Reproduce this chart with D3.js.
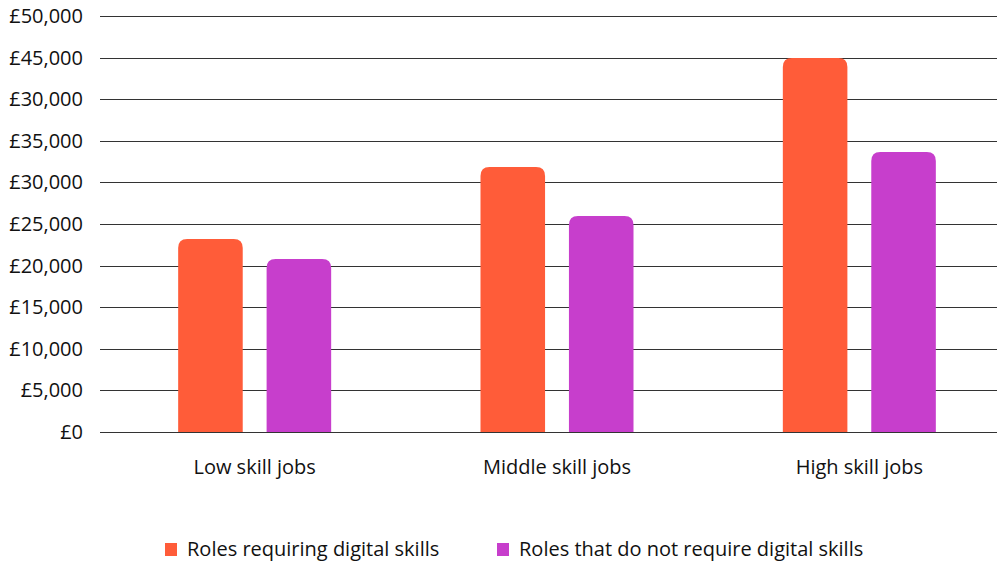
<!DOCTYPE html>
<html>
<head>
<meta charset="utf-8">
<script src="https://cdn.jsdelivr.net/npm/d3@7"></script>
<style>
  body { margin: 0; background: #fff; }
  svg { display: block; font-family: "Open Sans", sans-serif; }
</style>
</head>
<body>
<div id="chart"></div>
<script>
// Data
const categories = ["Low skill jobs", "Middle skill jobs", "High skill jobs"];
const seriesNames = ["Roles requiring digital skills", "Roles that do not require digital skills"];
const digitalValues = [23200, 31850, 44950];
const nonDigitalValues = [20800, 25950, 33650];
const tickValues = [0, 5000, 10000, 15000, 20000, 25000, 30000, 35000, 40000, 45000, 50000];
// labels as printed in the original (the 40,000 line reads £30,000)
const tickLabels = ["£0", "£5,000", "£10,000", "£15,000", "£20,000", "£25,000", "£30,000", "£35,000", "£30,000", "£45,000", "£50,000"];
const colors = ["#ff5c39", "#c73ecc"];

const width = 997, height = 563;
const svg = d3.select("#chart").append("svg")
    .attr("width", width)
    .attr("height", height);

const y = d3.scaleLinear().domain([0, 50000]).range([432, 16]);
const x = d3.scaleBand().domain(categories).range([103.5, 1010.5]);
const xInner = d3.scaleBand().domain([0, 1]).range([0, 153]).paddingInner(0.27);

// gridlines
svg.append("g").selectAll("line")
    .data(tickValues)
    .join("line")
    .attr("x1", 100).attr("x2", width)
    .attr("y1", d => Math.round(y(d)) + 0.5)
    .attr("y2", d => Math.round(y(d)) + 0.5)
    .attr("stroke", "#333")
    .attr("stroke-width", 1);

// y tick labels
svg.append("g").selectAll("text")
    .data(tickValues)
    .join("text")
    .attr("x", 83)
    .attr("y", d => y(d))
    .attr("dy", "0.35em")
    .attr("text-anchor", "end")
    .attr("font-size", 20)
    .attr("fill", "#111")
    .text((d, i) => tickLabels[i]);

// bar with rounded top corners only
function topRounded(x0, y0, w, h, r) {
    r = Math.min(r, h, w / 2);
    return `M${x0},${y0 + h}V${y0 + r}Q${x0},${y0} ${x0 + r},${y0}H${x0 + w - r}Q${x0 + w},${y0} ${x0 + w},${y0 + r}V${y0 + h}Z`;
}

const groups = svg.append("g").selectAll("g")
    .data(categories)
    .join("g")
    .attr("transform", d => `translate(${x(d) + x.bandwidth() / 2 - 76.5},0)`);

groups.selectAll("path")
    .data((d, i) => [digitalValues[i], nonDigitalValues[i]])
    .join("path")
    .attr("fill", (d, i) => colors[i])
    .attr("d", (d, i) => topRounded(xInner(i), y(d), xInner.bandwidth(), y(0) - y(d), 9));

// category labels
svg.append("g").selectAll("text")
    .data(categories)
    .join("text")
    .attr("x", d => x(d) + x.bandwidth() / 2)
    .attr("y", 467)
    .attr("dy", "0.35em")
    .attr("text-anchor", "middle")
    .attr("font-size", 20)
    .attr("fill", "#111")
    .text(d => d);

// legend
const legendX = [165, 497];
const legend = svg.append("g").selectAll("g")
    .data(seriesNames)
    .join("g")
    .attr("transform", (d, i) => `translate(${legendX[i]},549)`);

legend.append("rect")
    .attr("x", 0).attr("y", -6)
    .attr("width", 12).attr("height", 13)
    .attr("fill", (d, i) => colors[i]);

legend.append("text")
    .attr("x", 22)
    .attr("dy", "0.35em")
    .attr("font-size", 20)
    .attr("fill", "#111")
    .text(d => d);
</script>
</body>
</html>
